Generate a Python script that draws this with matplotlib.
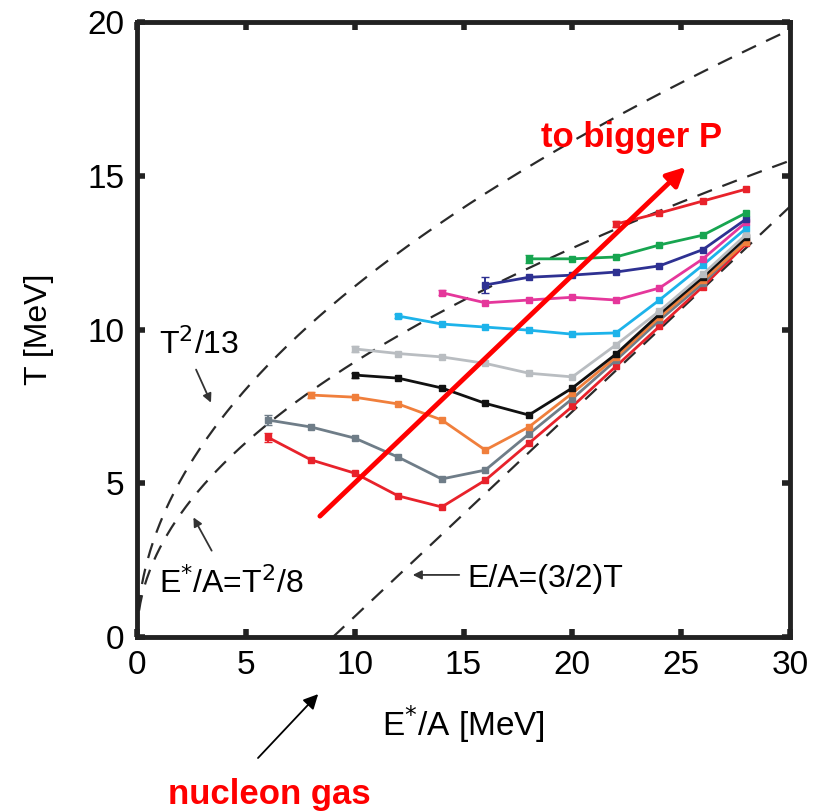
import numpy as np
import matplotlib
matplotlib.use("Agg")
from matplotlib import pyplot as plt

plt.rcParams['font.family'] = ['Liberation Sans', 'DejaVu Sans']

# excitation energy grid (MeV per nucleon)
e_all = [6, 8, 10, 12, 14, 16, 18, 20, 22, 24, 26, 28]

# caloric curves, lowest pressure first
t_red_low = [6.5, 5.76, 5.33, 4.59, 4.23, 5.1, 6.3, 7.5, 8.8, 10.1, 11.4, 12.8]
t_slate   = [7.06, 6.83, 6.47, 5.85, 5.14, 5.43, 6.6, 7.75, 9.0, 10.3, 11.5, 12.9]
e_orange  = [8, 10, 12, 14, 16, 18, 20, 22, 24, 26, 28]
t_orange  = [7.87, 7.8, 7.58, 7.06, 6.08, 6.83, 7.93, 9.1, 10.4, 11.6, 12.85]
e_black   = [10, 12, 14, 16, 18, 20, 22, 24, 26, 28]
t_black   = [8.52, 8.42, 8.1, 7.6, 7.22, 8.1, 9.2, 10.5, 11.7, 13.0]
e_lgrey   = [10, 12, 14, 16, 18, 20, 22, 24, 26, 28]
t_lgrey   = [9.37, 9.22, 9.11, 8.9, 8.58, 8.46, 9.5, 10.6, 11.8, 13.1]
e_cyan    = [12, 14, 16, 18, 20, 22, 24, 26, 28]
t_cyan    = [10.44, 10.18, 10.08, 9.98, 9.85, 9.89, 10.96, 12.1, 13.3]
e_mag     = [14, 16, 18, 20, 22, 24, 26, 28]
t_mag     = [11.2, 10.87, 10.96, 11.05, 10.96, 11.35, 12.3, 13.5]
e_blue    = [16, 18, 20, 22, 24, 26, 28]
t_blue    = [11.45, 11.7, 11.77, 11.87, 12.07, 12.6, 13.6]
e_green   = [18, 20, 22, 24, 26, 28]
t_green   = [12.3, 12.3, 12.36, 12.75, 13.07, 13.8]
e_red_top = [22, 24, 26, 28]
t_red_top = [13.43, 13.79, 14.18, 14.57]

series = [
    (e_all, t_red_low, '#e8222b', 0.15),
    (e_all, t_slate, '#6f7d88', 0.15),
    (e_orange, t_orange, '#f07f3c', 0.1),
    (e_black, t_black, '#111111', 0.08),
    (e_lgrey, t_lgrey, '#b9bdc1', 0.1),
    (e_cyan, t_cyan, '#1db3ea', 0.08),
    (e_mag, t_mag, '#e5379b', 0.08),
    (e_blue, t_blue, '#2e3192', 0.25),
    (e_green, t_green, '#17a550', 0.12),
    (e_red_top, t_red_top, '#e8222b', 0.1),
]

fig = plt.figure(figsize=(8.23, 8.11), dpi=100)
ax = fig.add_axes([0.1665, 0.2145, 0.7934, 0.7583])

# reference curves
e_curve = np.linspace(0, 30, 400)
dash = dict(color='#2a2a2a', lw=1.6, dashes=(7, 5))
ax.plot(e_curve, np.sqrt(13 * e_curve), **dash)
ax.plot(e_curve, np.sqrt(8 * e_curve), **dash)
e_gas = np.linspace(9.0, 30, 100)
ax.plot(e_gas, (2.0 / 3.0) * (e_gas - 9.0), **dash)

for e, t, c, err in series:
    ax.plot(e, t, '-s', color=c, lw=2.0, ms=4.8, mec=c, zorder=3)
    ax.errorbar(e[0], t[0], yerr=err, color=c, capsize=3, lw=1.4, zorder=3)

ax.set_xlim(0, 30)
ax.set_ylim(0, 20)
ax.set_xticks([0, 5, 10, 15, 20, 25, 30])
ax.set_yticks([0, 5, 10, 15, 20])
for s in ax.spines.values():
    s.set_linewidth(3.5)
    s.set_color('#222222')
ax.tick_params(direction='in', length=6, width=4, color='#222222',
               top=True, right=True, labelsize=24, pad=9)
ax.set_xlabel('E$^{*}$/A [MeV]', fontsize=24, labelpad=16)
ax.set_ylabel('T [MeV]', fontsize=23, labelpad=24)

# annotations
arr = dict(arrowstyle='-|>', color='#333333', lw=1.3, mutation_scale=13)
ax.annotate('', xy=(3.45, 7.54), xytext=(2.66, 8.78), arrowprops=arr)
ax.text(2.85, 9.5, 'T$^2$/13', fontsize=23, ha='center', va='center')
ax.annotate('', xy=(2.53, 3.97), xytext=(3.49, 2.73), arrowprops=arr)
ax.text(1.0, 1.75, 'E$^{*}$/A=T$^2$/8', fontsize=23, ha='left', va='center')
ax.annotate('', xy=(12.54, 2.02), xytext=(14.93, 2.02), arrowprops=arr)
ax.text(15.2, 1.9, 'E/A=(3/2)T', fontsize=23, ha='left', va='center')

ax.annotate('', xy=(8.41, -1.79), xytext=(5.47, -4.0), annotation_clip=False,
            arrowprops=dict(arrowstyle='-|>', color='black', lw=1.3, mutation_scale=22))
ax.text(6.1, -5.12, 'nucleon gas', color='#ff0000', fontsize=25, fontweight='bold',
        ha='center', va='center', clip_on=False)

ax.annotate('', xy=(25.3, 15.35), xytext=(8.31, 3.87),
            arrowprops=dict(arrowstyle='-|>', color='#ff0000', lw=3.5, mutation_scale=28))
ax.text(22.7, 16.25, 'to bigger P', color='#ff0000', fontsize=25, fontweight='bold',
        ha='center', va='center')

fig.savefig('out.png', dpi=100)
